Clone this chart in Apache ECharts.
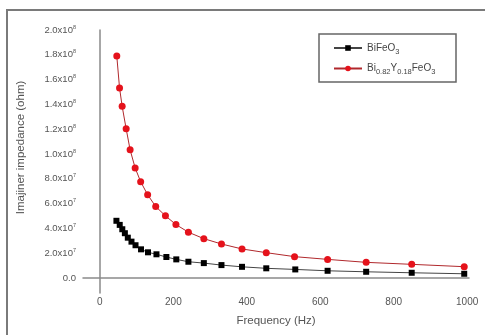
<!DOCTYPE html>
<html>
<head>
<meta charset="utf-8">
<script src="https://cdn.jsdelivr.net/npm/echarts@6/dist/echarts.min.js"></script>
<style>
  html, body { margin: 0; padding: 0; background: #fff; }
  #chart { width: 485px; height: 335px; }
</style>
</head>
<body>
<div id="chart"></div>
<script>
// frequency (Hz) and imaginary impedance (ohm)
const freqBiFeO3 = [45, 54, 61, 68, 76, 86, 97, 112, 131, 154, 181, 208, 241, 283, 331, 387, 453, 532, 620, 725, 849, 992];
const zBiFeO3 = [46.2e6, 42.9e6, 39.4e6, 36.2e6, 32.6e6, 29.4e6, 26.5e6, 23.2e6, 20.8e6, 19.2e6, 17.0e6, 15.1e6,
    13.2e6, 12.1e6, 10.5e6, 9.1e6, 7.9e6, 7.0e6, 5.9e6, 5.1e6, 4.3e6, 3.5e6];
const freqBYFO = [46, 53.5, 60.6, 71.5, 82.3, 96, 111, 130, 152, 178.5, 207, 241, 283, 331, 387, 453, 530, 620, 725, 849, 992];
const zBYFO = [179e6, 153.3e6, 138.5e6, 120.4e6, 103.4e6, 88.8e6, 77.7e6, 67.2e6, 57.7e6, 50.2e6, 43.2e6, 37.0e6,
    31.8e6, 27.5e6, 23.5e6, 20.5e6, 17.3e6, 15.1e6, 12.7e6, 11.1e6, 9.2e6];
const xTicks = [0, 200, 400, 600, 800, 1000];
const yTicks = [0, 2e7, 4e7, 6e7, 8e7, 1e8, 1.2e8, 1.4e8, 1.6e8, 1.8e8, 2e8];

const pairs = (xs, ys) => xs.map((x, i) => [x, ys[i]]);

// 2.0x10^8 style labels
const sciLabel = (v) => {
    if (v === 0) return '0.0';
    const exp = Math.floor(Math.log10(v) + 1e-9);
    const mant = (v / Math.pow(10, exp)).toFixed(1);
    return mant + 'x10{sup|' + exp + '}';
};

const chart = echarts.init(document.getElementById('chart'));
const labelColor = '#555';
const font = 'Liberation Sans, Arial, sans-serif';

chart.setOption({
    animation: false,
    grid: { left: 83, right: 16, top: 30, bottom: 42 },
    graphic: [
        {
            type: 'rect',
            shape: { x: 7, y: 10, width: 495, height: 345 },
            style: { fill: 'none', stroke: '#7a7a7a', lineWidth: 2 },
            silent: true
        },
        {
            type: 'rect',
            shape: { x: 319, y: 34, width: 137, height: 48 },
            style: { fill: '#fff', stroke: '#666', lineWidth: 1.5 },
            z: 5,
            silent: true
        }
    ],
    legend: {
        left: 328,
        top: 38,
        orient: 'vertical',
        itemWidth: 28,
        itemHeight: 7,
        itemGap: 8,
        z: 10,
        textStyle: {
            fontFamily: font,
            fontSize: 10,
            color: '#444',
            rich: {
                n: { fontFamily: font, fontSize: 10, color: '#444', lineHeight: 14 },
                sub: { fontFamily: font, fontSize: 7.5, color: '#444', padding: [7, 0, 0, 0] }
            }
        },
        formatter: (name) => {
            if (name === 'BiFeO3') return '{n|BiFeO}{sub|3}';
            return '{n|Bi}{sub|0.82}{n|Y}{sub|0.18}{n|FeO}{sub|3}';
        },
        data: ['BiFeO3', 'Bi0.82Y0.18FeO3']
    },
    xAxis: {
        type: 'value',
        min: -46,
        max: 1005,
        name: 'Frequency (Hz)',
        nameLocation: 'middle',
        nameGap: 22,
        nameTextStyle: { fontFamily: font, fontSize: 11.5, color: labelColor },
        axisLine: { show: true, lineStyle: { color: '#8a8a8a', width: 1.5 } },
        axisTick: { show: false },
        splitLine: { show: false },
        axisLabel: {
            customValues: xTicks,
            margin: 4,
            fontFamily: font,
            fontSize: 10,
            color: labelColor,
            formatter: (v) => String(v)
        }
    },
    yAxis: {
        type: 'value',
        min: -12e6,
        max: 2e8,
        name: 'Imajiner impedance (ohm)',
        nameLocation: 'middle',
        nameGap: 56,
        nameTextStyle: { fontFamily: font, fontSize: 11.5, color: labelColor, padding: [0, 0, 0, 28] },
        axisLine: { show: true, lineStyle: { color: '#8a8a8a', width: 1.5 } },
        axisTick: { show: false },
        splitLine: { show: false },
        axisLabel: {
            customValues: yTicks,
            margin: 7,
            fontFamily: font,
            fontSize: 9.5,
            color: labelColor,
            formatter: sciLabel,
            rich: {
                sup: { fontFamily: font, fontSize: 5.5, color: labelColor, padding: [0, 0, 6, 0] }
            }
        }
    },
    series: [
        {
            name: 'BiFeO3',
            type: 'line',
            data: pairs(freqBiFeO3, zBiFeO3),
            symbol: 'rect',
            symbolSize: 6,
            itemStyle: { color: '#000' },
            lineStyle: { color: '#444', width: 1 }
        },
        {
            name: 'Bi0.82Y0.18FeO3',
            type: 'line',
            data: pairs(freqBYFO, zBYFO),
            symbol: 'circle',
            symbolSize: 7,
            itemStyle: { color: '#e5121b' },
            lineStyle: { color: '#b0282c', width: 1 }
        }
    ]
});
</script>
</body>
</html>
